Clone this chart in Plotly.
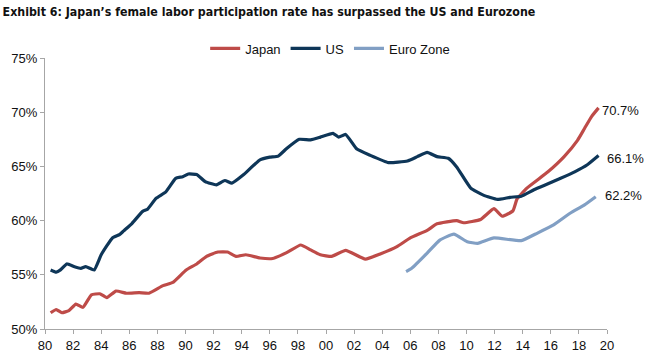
import plotly.graph_objects as go

# ---- data ----
japan_x = [1980.4, 1980.8, 1981.2, 1981.7, 1982.2, 1982.7, 1983.3, 1983.9, 1984.4, 1985.05,
           1985.8, 1986.7, 1987.4, 1988.4, 1989.1, 1990.05, 1990.8, 1991.5, 1992.3, 1993.0,
           1993.6, 1994.3, 1995.3, 1996.2, 1997.2, 1998.2, 1998.9, 1999.6, 2000.4, 2001.4,
           2002.8, 2003.9, 2005.05, 2006.0, 2007.2, 2007.9, 2009.3, 2009.8, 2011.0, 2011.95,
           2012.55, 2013.3, 2013.6, 2014.3, 2015.8, 2016.95, 2017.9, 2018.4, 2018.9, 2019.4]
japan_y = [51.5, 51.8, 51.5, 51.7, 52.3, 52.0, 53.15, 53.25, 52.9, 53.5,
           53.3, 53.35, 53.3, 54.0, 54.3, 55.45, 56.0, 56.7, 57.1, 57.1,
           56.7, 56.85, 56.55, 56.5, 57.05, 57.75, 57.3, 56.85, 56.7, 57.25,
           56.45, 56.95, 57.6, 58.4, 59.1, 59.7, 60.0, 59.8, 60.1, 61.1,
           60.4, 60.9, 62.0, 63.0, 64.5, 65.9, 67.4, 68.5, 69.6, 70.4]

us_x = [1980.4, 1980.8, 1981.1, 1981.55, 1982.1, 1982.55, 1982.9, 1983.5, 1984.0, 1984.8,
        1985.3, 1985.6, 1986.2, 1986.95, 1987.3, 1987.9, 1988.6, 1989.3, 1989.8, 1990.2,
        1990.8, 1991.4, 1992.2, 1992.8, 1993.3, 1994.1, 1995.3, 1996.0, 1996.6, 1997.2,
        1998.1, 1998.9, 1999.6, 2000.5, 2000.9, 2001.4, 2002.2, 2003.1, 2004.45, 2005.8,
        2006.5, 2007.2, 2007.9, 2008.7, 2009.3, 2010.3, 2011.2, 2012.2, 2013.1, 2013.9,
        2014.8, 2015.8, 2016.7, 2017.7, 2018.6, 2019.4]
us_y = [55.45, 55.25, 55.45, 56.0, 55.75, 55.6, 55.75, 55.45, 56.85, 58.4,
        58.7, 59.05, 59.75, 60.85, 61.05, 62.05, 62.65, 63.9, 64.05, 64.3,
        64.25, 63.6, 63.3, 63.7, 63.45, 64.2, 65.6, 65.85, 65.95, 66.65,
        67.5, 67.45, 67.7, 68.05, 67.7, 67.95, 66.6, 66.05, 65.35, 65.5,
        65.9, 66.3, 65.9, 65.75, 64.95, 63.0, 62.35, 61.95, 62.15, 62.25,
        62.85, 63.4, 63.9, 64.5, 65.15, 66.0]

euro_x = [2005.7, 2006.1, 2007.2, 2008.1, 2009.1, 2010.05, 2010.8, 2011.95, 2013.9, 2015.05,
          2016.2, 2017.4, 2018.4, 2019.2]
euro_y = [55.3, 55.6, 57.0, 58.2, 58.75, 58.05, 57.9, 58.4, 58.15, 58.85,
          59.6, 60.7, 61.45, 62.2]

end_labels = ["70.7%", "66.1%", "62.2%"]
x_tickvals = list(range(1980, 2021, 2))
x_ticktext = ["%02d" % (v % 100) for v in x_tickvals]
y_tickvals = [50, 55, 60, 65, 70, 75]
y_ticktext = ["%d%%" % v for v in y_tickvals]

# ---- figure ----
c_japan = "#BE4B48"
c_us = "#0E3658"
c_euro = "#819FC4"

fig = go.Figure()
fig.add_trace(go.Scatter(x=japan_x, y=japan_y, mode="lines", name="Japan",
                         line=dict(color=c_japan, width=3.2, shape="spline", smoothing=0.4)))
fig.add_trace(go.Scatter(x=us_x, y=us_y, mode="lines", name="US",
                         line=dict(color=c_us, width=3.2, shape="spline", smoothing=0.4)))
fig.add_trace(go.Scatter(x=euro_x, y=euro_y, mode="lines", name="Euro Zone",
                         line=dict(color=c_euro, width=3.2, shape="spline", smoothing=0.4)))

label_pos = [(0.988, 70.2), (0.996, 65.7), (0.993, 62.35)]
for (lx, ly), txt in zip(label_pos, end_labels):
    fig.add_annotation(x=lx, xref="paper", y=ly, yref="y", text=txt, showarrow=False,
                       xanchor="left", yanchor="middle",
                       font=dict(size=13, color="#111",
                                 family="Liberation Sans, Arial, sans-serif"))

fig.update_layout(
    width=645, height=354,
    margin=dict(l=45, r=38, t=58, b=25, autoexpand=False),
    paper_bgcolor="white", plot_bgcolor="white",
    font=dict(family="Liberation Sans, Arial, sans-serif", size=13, color="#111"),
    title=dict(text="<b>Exhibit 6: Japan’s female labor participation rate has surpassed the US and Eurozone</b>",
               x=0.004, xanchor="left", y=0.966, yanchor="middle",
               font=dict(family="DejaVu Sans Condensed, Liberation Sans Narrow, Liberation Sans, sans-serif",
                         size=12.3, color="#111")),
    legend=dict(orientation="h", x=0.285, xanchor="left", y=1.035, yanchor="middle",
                font=dict(size=13), bgcolor="rgba(0,0,0,0)", itemwidth=30,
                tracegroupgap=0),
    showlegend=True,
)
fig.update_xaxes(range=[1980, 2020], tickvals=x_tickvals, ticktext=x_ticktext,
                 showgrid=False, zeroline=False, showline=True, linecolor="#A6A6A6",
                 linewidth=1, ticks="outside", ticklen=4, tickcolor="#A6A6A6",
                 tickfont=dict(size=13), automargin=False)
fig.update_yaxes(range=[50, 75], tickvals=y_tickvals, ticktext=y_ticktext,
                 showgrid=False, zeroline=False, showline=True, linecolor="#A6A6A6",
                 linewidth=1, ticks="outside", ticklen=4, tickcolor="#A6A6A6",
                 tickfont=dict(size=13), automargin=False)

fig.write_html("out.html")
